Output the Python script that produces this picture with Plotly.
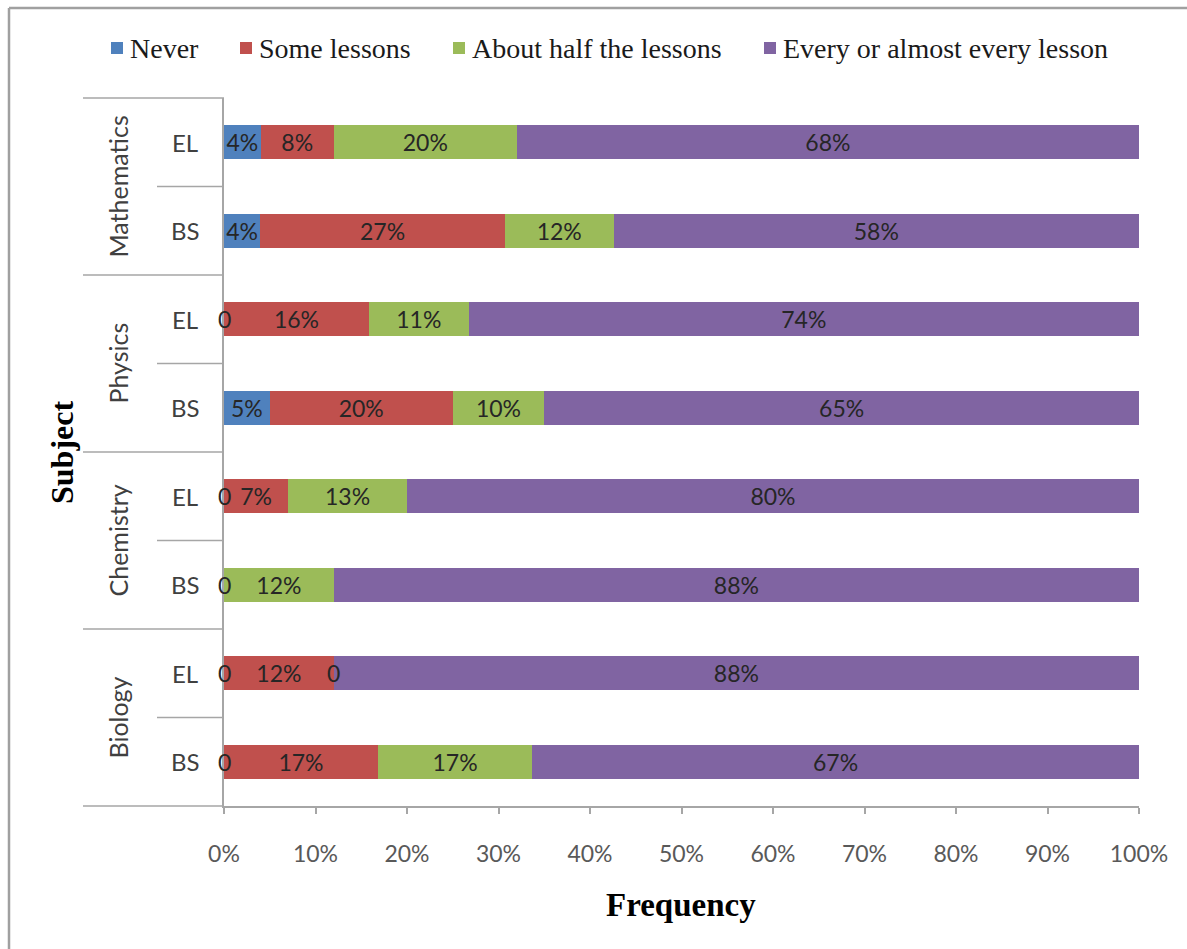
import plotly.graph_objects as go

# ---- data ----
subjects = ["Mathematics", "Mathematics", "Physics", "Physics",
            "Chemistry", "Chemistry", "Biology", "Biology"]
levels = ["EL", "BS", "EL", "BS", "EL", "BS", "EL", "BS"]
series_names = ["Never", "Some lessons", "About half the lessons",
                "Every or almost every lesson"]
never = [4, 4, 0, 5, 0, 0, 0, 0]
some_lessons = [8, 27, 16, 20, 7, 0, 12, 17]
about_half = [20, 12, 11, 10, 13, 12, 0, 17]
every_lesson = [68, 58, 74, 65, 80, 88, 88, 67]
x_ticks = [0, 10, 20, 30, 40, 50, 60, 70, 80, 90, 100]

colors = ["#4F81BD", "#C0504D", "#9BBB59", "#8064A2"]
series = [never, some_lessons, about_half, every_lesson]

W, H = 1187, 949
L, R, T, B = 224, 1139, 98, 806
PW, PH = R - L, B - T


def px_x(p):
    return (p - L) / PW


def px_y(p):
    return (B - p) / PH


cat_idx = list(range(len(levels)))
sans = "Lato, 'Open Sans', sans-serif"
serif = "'Liberation Serif', 'Times New Roman', serif"
label_color = "#262626"

fig = go.Figure()
for name, vals, col in zip(series_names, series, colors):
    fig.add_trace(go.Bar(
        y=cat_idx, x=vals, orientation="h", name=name,
        marker=dict(color=col, line=dict(width=0)),
        text=[f"{v}%" if v > 0 else "" for v in vals],
        textposition="inside", insidetextanchor="middle",
        textfont=dict(family=sans, size=23, color=label_color),
        hoverinfo="skip", showlegend=False,
    ))

annotations = []
shapes = []

# zero labels at segment positions (normalized like a 100% stacked bar)
for i in cat_idx:
    total = sum(s[i] for s in series)
    cum = 0
    seen = set()
    for s in series:
        v = s[i]
        if v == 0:
            pos = round(cum / total * 100, 3)
            if pos not in seen:
                seen.add(pos)
                annotations.append(dict(
                    x=pos, y=i, xref="x", yref="y", text="0", showarrow=False,
                    font=dict(family=sans, size=23, color=label_color),
                    xanchor="center", yanchor="middle"))
        cum += v

# level labels
for i, lv in enumerate(levels):
    annotations.append(dict(
        x=px_x(185), y=i, xref="paper", yref="y", text=lv, showarrow=False,
        font=dict(family=sans, size=24, color="#404040"),
        xanchor="center", yanchor="middle"))

# subject group labels and dividers
groups = []
for i, s in enumerate(subjects):
    if not groups or groups[-1][0] != s:
        groups.append([s, i, i])
    else:
        groups[-1][2] = i
axis_line = dict(color="#a6a6a6", width=1.5)
for s, a, b in groups:
    annotations.append(dict(
        x=px_x(117), y=(a + b) / 2, xref="paper", yref="y", text=s,
        showarrow=False, textangle=-90,
        font=dict(family=sans, size=25, color="#404040"),
        xanchor="center", yanchor="middle"))
    if b < len(levels) - 1:
        shapes.append(dict(type="line", xref="paper", yref="y",
                           x0=px_x(83), x1=0, y0=b + 0.5, y1=b + 0.5,
                           line=axis_line))
    for k in range(a, b):
        shapes.append(dict(type="line", xref="paper", yref="y",
                           x0=px_x(157), x1=0, y0=k + 0.5, y1=k + 0.5,
                           line=axis_line))

# top and bottom category-axis lines
shapes.append(dict(type="line", xref="paper", yref="paper",
                   x0=px_x(83), x1=0, y0=1, y1=1, line=axis_line))
shapes.append(dict(type="line", xref="paper", yref="paper",
                   x0=px_x(83), x1=0, y0=0, y1=0, line=axis_line))

# outer frame (top and left edges visible)
frame = dict(color="#a0a0a0", width=2.5)
shapes.append(dict(type="line", xref="paper", yref="paper",
                   x0=px_x(9), x1=px_x(W), y0=px_y(8), y1=px_y(8), line=frame))
shapes.append(dict(type="line", xref="paper", yref="paper",
                   x0=px_x(9), x1=px_x(9), y0=px_y(8), y1=px_y(H), line=frame))

# legend (drawn as shapes + text, Excel style)
legend_marker_left = [111, 240, 453, 764]
legend_y = 48
for name, col, mx in zip(series_names, colors, legend_marker_left):
    shapes.append(dict(type="rect", xref="paper", yref="paper",
                       x0=px_x(mx), x1=px_x(mx + 12),
                       y0=px_y(legend_y + 6), y1=px_y(legend_y - 6),
                       fillcolor=col, line=dict(width=0)))
    annotations.append(dict(
        x=px_x(mx + 17), y=px_y(legend_y), xref="paper", yref="paper",
        text=name, showarrow=False, xanchor="left", yanchor="middle",
        font=dict(family=serif, size=28, color="#1a1a1a")))

# axis titles
annotations.append(dict(
    x=px_x(62), y=px_y(453), xref="paper", yref="paper", text="<b>Subject</b>",
    showarrow=False, textangle=-90,
    font=dict(family=serif, size=32, color="#000000"),
    xanchor="center", yanchor="middle"))
annotations.append(dict(
    x=px_x(681), y=px_y(905), xref="paper", yref="paper", text="<b>Frequency</b>",
    showarrow=False,
    font=dict(family=serif, size=33, color="#000000"),
    xanchor="center", yanchor="middle"))

fig.update_layout(
    width=W, height=H, autosize=False,
    margin=dict(l=L, r=W - R, t=T, b=H - B, pad=0),
    barmode="stack", barnorm="percent", bargap=0.615,
    plot_bgcolor="white", paper_bgcolor="white",
    uniformtext=dict(mode="show", minsize=23),
    showlegend=False,
    annotations=annotations,
    shapes=shapes,
    xaxis=dict(range=[0, 100], tickvals=x_ticks,
               ticktext=[f"{t}%" for t in x_ticks],
               ticks="outside", ticklen=6, tickcolor="#a6a6a6", tickwidth=1.5,
               showline=True, linecolor="#a6a6a6", linewidth=1.5,
               showgrid=False, zeroline=False, automargin=False,
               tickfont=dict(family=sans, size=23, color="#595959"),
               ticklabelstandoff=21),
    yaxis=dict(range=[len(levels) - 0.5, -0.5], showticklabels=False,
               ticks="", showline=True, linecolor="#a6a6a6", linewidth=1.5,
               showgrid=False, zeroline=False, automargin=False),
)

fig.write_html("out.html")
